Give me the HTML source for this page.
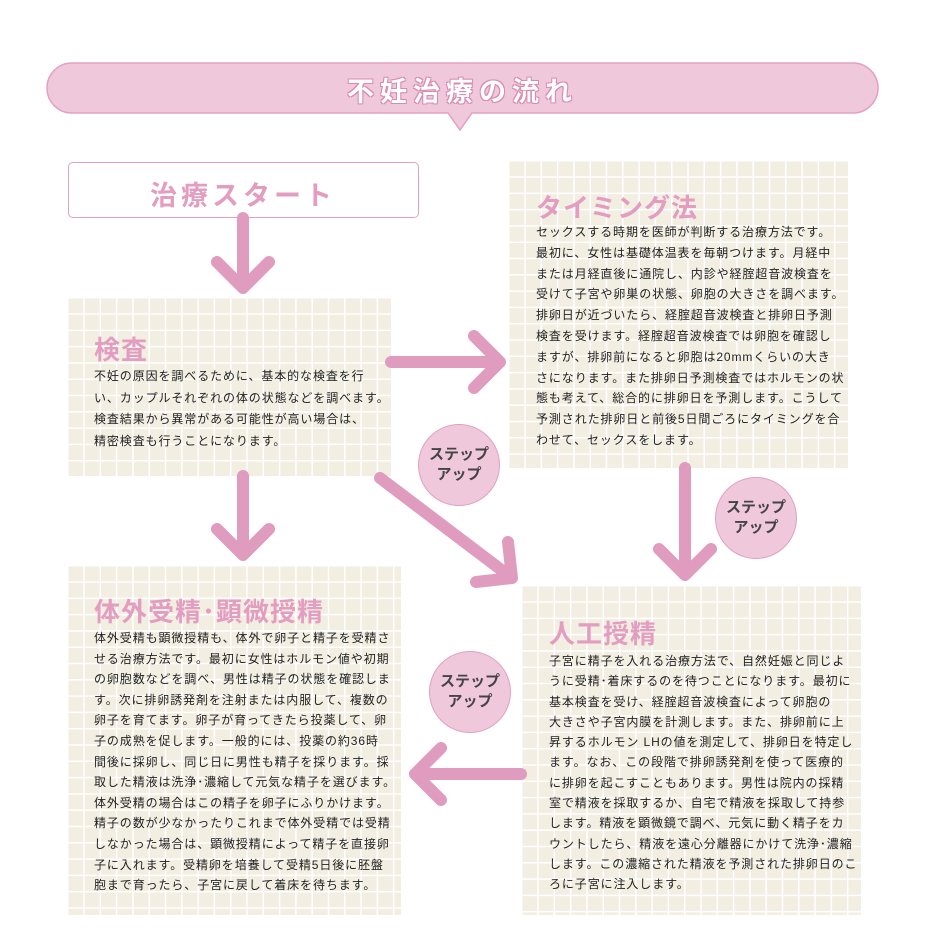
<!DOCTYPE html>
<html><head><meta charset="utf-8"><style>
body{margin:0;width:948px;height:941px;background:#fff;position:relative;overflow:hidden;font-family:"Liberation Sans","Noto Sans CJK JP",sans-serif;}
.grid{position:absolute;background-color:#f2eee2;background-image:linear-gradient(#fff 1.5px,transparent 1.5px),linear-gradient(90deg,#fff 1.5px,transparent 1.5px);background-size:16.3px 16.3px;}
.t{position:absolute;color:#e39dc0;font-weight:bold;font-size:26px;letter-spacing:1px;white-space:nowrap;}
.p{position:absolute;color:#222;font-size:12px;letter-spacing:0.9px;white-space:nowrap;}
.c{position:absolute;width:82px;height:82px;border-radius:50%;background:#f0c8dc;border:1.5px solid #e0a0c0;color:#444;font-weight:bold;font-size:15px;line-height:20px;text-align:center;box-sizing:border-box;padding-top:20px;}
</style></head><body>
<svg style="position:absolute;left:0;top:0" width="948" height="941">
<path d="M72 63 H853 A25 25 0 0 1 853 113 H472 L460 130 L448 113 H72 A25 25 0 0 1 72 63 Z" fill="#f0c8dc" stroke="#e4a0c0" stroke-width="1.5"/>
</svg>
<div style="position:absolute;left:47px;top:70px;width:831px;text-align:center;color:#fff;font-weight:bold;font-size:27px;letter-spacing:6px;text-shadow:1px 1px 0 #d98ab0,-1px -1px 0 #d98ab0,1px -1px 0 #d98ab0,-1px 1px 0 #d98ab0">不妊治療の流れ</div>
<div style="position:absolute;left:68px;top:162px;width:351px;height:56px;box-sizing:border-box;border:1.5px solid #e4a0c0;border-radius:5px;background:#fff"></div>
<div class="t" style="left:150px;top:174px;font-size:27px;letter-spacing:4px">治療スタート</div>

<div class="grid" style="left:67px;top:297px;width:324px;height:179px"></div>
<div class="grid" style="left:508px;top:160px;width:340px;height:308px"></div>
<div class="grid" style="left:67px;top:565px;width:334px;height:350px"></div>
<div class="grid" style="left:521px;top:585px;width:340px;height:330px"></div>

<svg style="position:absolute;left:0;top:0" width="948" height="941" fill="none" stroke="#e09cbf" stroke-width="12" stroke-linecap="round" stroke-linejoin="round">
<path d="M243 218 V288 M217 262 L243 288 L269 262" />
<path d="M391 362 H500 M474 336 L500 362 L474 388"/>
<path d="M243 476 V555 M217 529 L243 555 L269 529"/>
<path d="M380 478 L512 578 M476 582 L512 578 L508 542"/>
<path d="M685 468 V575 M659 549 L685 575 L711 549"/>
<path d="M521 774 H415 M441 748 L415 774 L441 800"/>
</svg>

<div class="t" style="left:94px;top:330px">検査</div>
<div class="p" style="left:94px;top:366px;line-height:21.7px">不妊の原因を調べるために、基本的な検査を行<br>い、カップルそれぞれの体の状態などを調べます。<br>検査結果から異常がある可能性が高い場合は、<br>精密検査も行うことになります。</div>

<div class="t" style="left:536px;top:188px">タイミング法</div>
<div class="p" style="left:536px;top:222px;line-height:20.8px">セックスする時期を医師が判断する治療方法です。<br>最初に、女性は基礎体温表を毎朝つけます。月経中<br>または月経直後に通院し、内診や経腟超音波検査を<br>受けて子宮や卵巣の状態、卵胞の大きさを調べます。<br>排卵日が近づいたら、経腟超音波検査と排卵日予測<br>検査を受けます。経腟超音波検査では卵胞を確認し<br>ますが、排卵前になると卵胞は20mmくらいの大き<br>さになります。また排卵日予測検査ではホルモンの状<br>態も考えて、総合的に排卵日を予測します。こうして<br>予測された排卵日と前後5日間ごろにタイミングを合<br>わせて、セックスをします。</div>

<div class="t" style="left:94px;top:592px">体外受精･顕微授精</div>
<div class="p" style="left:94px;top:628px;line-height:20.6px">体外受精も顕微授精も、体外で卵子と精子を受精さ<br>せる治療方法です。最初に女性はホルモン値や初期<br>の卵胞数などを調べ、男性は精子の状態を確認しま<br>す。次に排卵誘発剤を注射または内服して、複数の<br>卵子を育てます。卵子が育ってきたら投薬して、卵<br>子の成熟を促します。一般的には、投薬の約36時<br>間後に採卵し、同じ日に男性も精子を採ります。採<br>取した精液は洗浄･濃縮して元気な精子を選びます。<br>体外受精の場合はこの精子を卵子にふりかけます。<br>精子の数が少なかったりこれまで体外受精では受精<br>しなかった場合は、顕微授精によって精子を直接卵<br>子に入れます。受精卵を培養して受精5日後に胚盤<br>胞まで育ったら、子宮に戻して着床を待ちます。</div>

<div class="t" style="left:549px;top:614px">人工授精</div>
<div class="p" style="left:549px;top:651px;line-height:20.3px">子宮に精子を入れる治療方法で、自然妊娠と同じよ<br>うに受精･着床するのを待つことになります。最初に<br>基本検査を受け、経腟超音波検査によって卵胞の<br>大きさや子宮内膜を計測します。また、排卵前に上<br>昇するホルモン LHの値を測定して、排卵日を特定し<br>ます。なお、この段階で排卵誘発剤を使って医療的<br>に排卵を起こすこともあります。男性は院内の採精<br>室で精液を採取するか、自宅で精液を採取して持参<br>します。精液を顕微鏡で調べ、元気に動く精子をカ<br>ウントしたら、精液を遠心分離器にかけて洗浄･濃縮<br>します。この濃縮された精液を予測された排卵日のこ<br>ろに子宮に注入します。</div>

<div class="c" style="left:418px;top:424px">ステップ<br>アップ</div>
<div class="c" style="left:715px;top:477px">ステップ<br>アップ</div>
<div class="c" style="left:429px;top:651px">ステップ<br>アップ</div>
</body></html>
